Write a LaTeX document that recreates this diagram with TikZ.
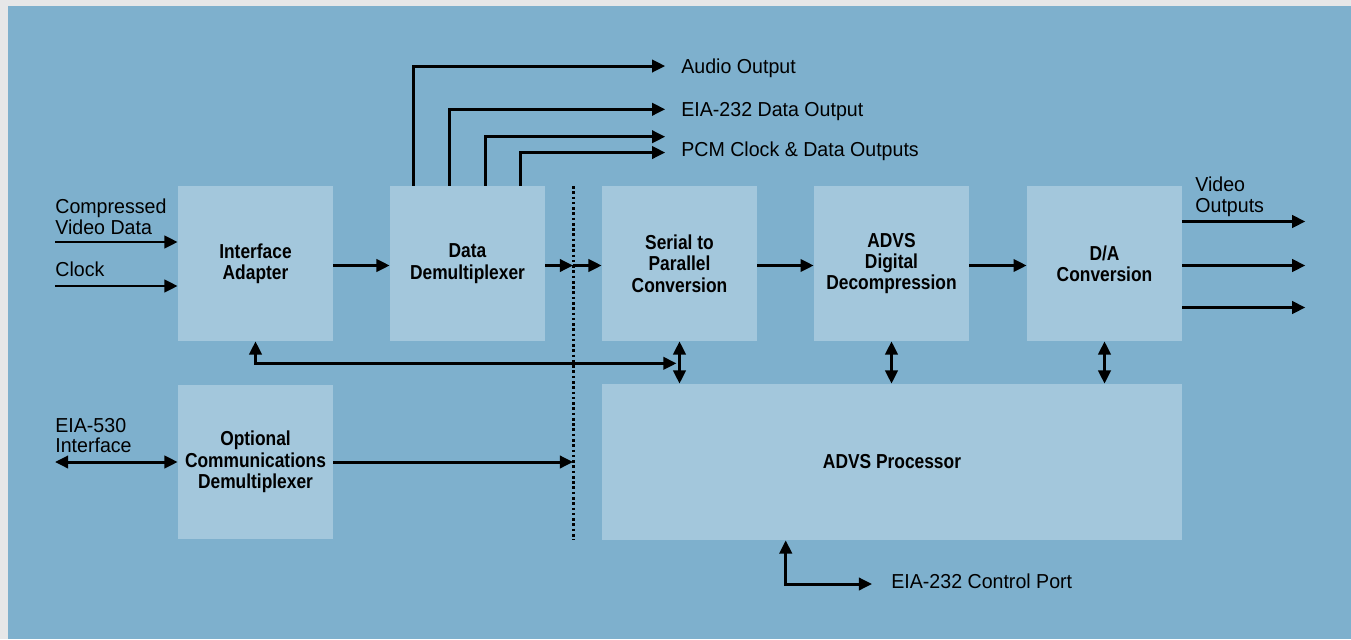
\documentclass[tikz,border=0pt]{standalone}
\usepackage{fontspec}
\setmainfont{Liberation Sans}[FakeStretch=0.97]
\newfontfamily\blkfont{Liberation Sans}[FakeStretch=0.86]
\usetikzlibrary{arrows.meta,positioning,calc}
\definecolor{framegray}{HTML}{E6E7E8}
\definecolor{bgblue}{HTML}{7EB0CD}
\definecolor{blkblue}{HTML}{A3C7DC}

\tikzset{
  blk/.style={fill=blkblue, minimum width=3.1cm, minimum height=3.1cm, align=center, inner sep=0pt, font=\blkfont\bfseries\fontsize{11.5}{12.2}\selectfont},
  lbl/.style={inner sep=0pt, align=left, font=\fontsize{11.5}{11.5}\selectfont},
  arr/.style={line width=1.7pt, -{Triangle[length=7.5pt,width=7pt]}},
  arrr/.style={line width=1.7pt, {Triangle[length=7.5pt,width=7pt]}-{Triangle[length=7.5pt,width=7pt]}},
  ln/.style={line width=1.7pt}
}

\begin{document}
\begin{tikzpicture}[x=0.02cm, y=-0.02cm]

\useasboundingbox (0,0) rectangle (1351,639);
\fill[framegray] (0,0) rectangle (1351,639);
\fill[bgblue] (8,6) rectangle (1351,639);

\node[blk] (iface) at (255.5,263.5) {Interface\\Adapter};
\node[blk] (demux) at (467.5,263.5) {Data\\Demultiplexer};
\node[blk] (serial) at (679.5,263.5) {Serial to\\Parallel\\Conversion};
\node[blk] (advs) at (891.5,263.5) {ADVS\\Digital\\Decompression};
\node[blk] (da) at (1104.5,263.5) {D/A\\Conversion};
\node[blk] (optcomm) at (255.5,462) {Optional\\Communications\\Demultiplexer};
\node[blk, minimum width=11.6cm, minimum height=3.12cm] (proc) at (892,462) {ADVS Processor};

\coordinate (dtop) at (573,186);
\coordinate (dbot) at (573,540);
\draw[line width=1.7pt, dash pattern=on 1.5pt off 1.5pt] (dtop) -- (dbot);

\node[lbl, anchor=north west] (cvd) at (55,199) {Compressed\\Video Data};
\node[lbl, anchor=north west] (clk) at (55,262) {Clock};
\node[lbl, anchor=north west] (eia530) at (55,418) {EIA-530\\Interface};
\node[lbl, anchor=north west] (vout) at (1195,177) {Video\\Outputs};
\node[lbl, anchor=base west] (audio) at (681,73) {Audio Output};
\node[lbl, anchor=base west] (eiadata) at (681,116) {EIA-232 Data Output};
\node[lbl, anchor=base west] (pcm) at (681,156) {PCM Clock \& Data Outputs};
\node[lbl, anchor=base west] (ctrl) at (891,588) {EIA-232 Control Port};

\coordinate (cvdin) at (55,242);
\coordinate (clkin) at (55,286);
\coordinate (eia530in) at (55,462);
\coordinate (ctrlout) at (872,584);

\draw[arr] (cvdin) -- (cvdin -| iface.west);
\draw[arr] (clkin) -- (clkin -| iface.west);
\draw[arrr] (eia530in) -- (optcomm.west);

\draw[arr] ($(iface.east)+(0,2)$) -- ($(demux.west)+(0,2)$);
\draw[arr] ($(demux.east)+(0,2)$) -- ($(demux.east -| dtop)+(0,2)$);
\draw[arr] ($(demux.east -| dtop)+(0,2)$) -- ($(serial.west)+(0,2)$);
\draw[arr] ($(serial.east)+(0,2)$) -- ($(advs.west)+(0,2)$);
\draw[arr] ($(advs.east)+(0,2)$) -- ($(da.west)+(0,2)$);
\draw[arr] (optcomm.east) -- (optcomm.east -| dtop);

\draw[arr] ($(da.east)+(0,-42)$) -- ++(123,0);
\draw[arr] ($(da.east)+(0,2)$) -- ++(123,0);
\draw[arr] ($(da.east)+(0,44)$) -- ++(123,0);

\draw[arr] ($(demux.north west)+(24,0)$) |- ([xshift=-9pt,yshift=1pt]audio.west);
\draw[arr] ($(demux.north west)+(60,0)$) |- ([xshift=-9pt,yshift=1pt]eiadata.west);
\draw[arr] ($(demux.north west)+(96,0)$) |- ([xshift=-9pt,yshift=8pt]pcm.west);
\draw[arr] ($(demux.north west)+(131,0)$) |- ([xshift=-9pt,yshift=-1pt]pcm.west);

\draw[arrr] (iface.south) |- ($(serial.south)+(-3,22)$);
\draw[arrr] (serial.south) -- (serial.south |- proc.north);
\draw[arrr] (advs.south) -- (advs.south |- proc.north);
\draw[arrr] (da.south) -- (da.south |- proc.north);

\draw[arrr] ($(proc.south west)+(184,0)$) |- (ctrlout);

\end{tikzpicture}
\end{document}
